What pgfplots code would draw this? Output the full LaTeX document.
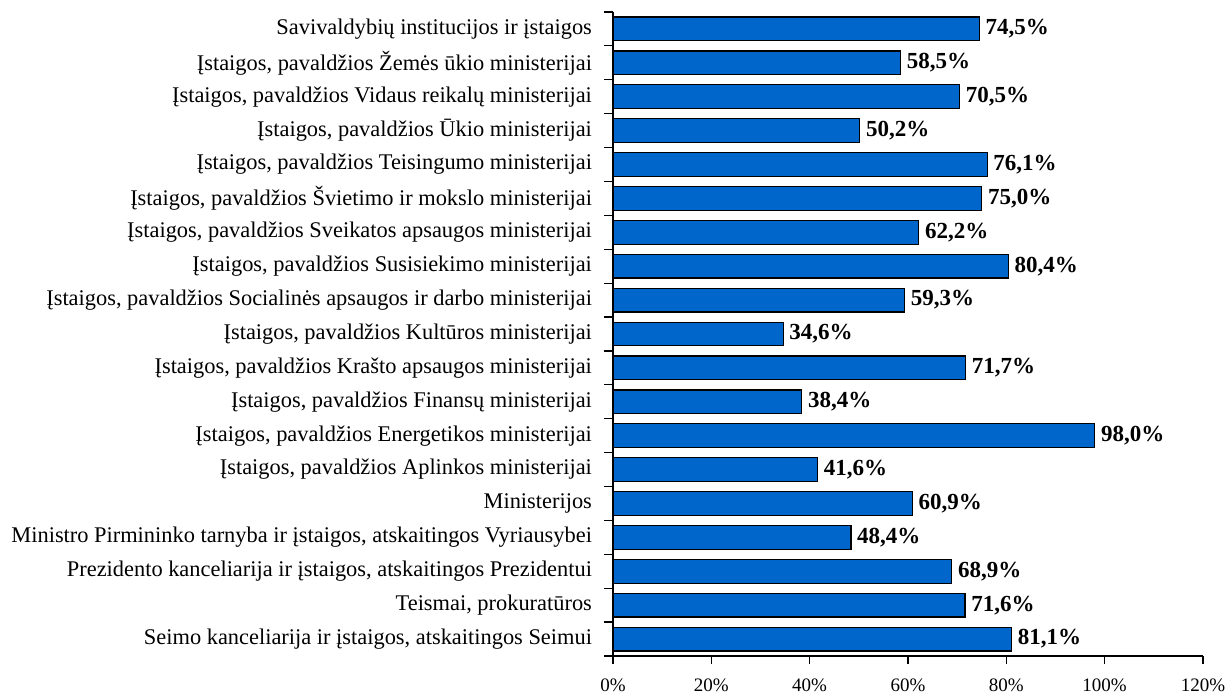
\documentclass[border=0pt]{standalone}
\usepackage{pgfplots}
\pgfplotsset{compat=1.18}
\usepackage{fontspec}
\setmainfont{Liberation Serif}
\definecolor{barblue}{HTML}{0066CC}
\begin{document}
\begin{tikzpicture}
\useasboundingbox (-306.5pt,-19pt) rectangle (307pt,328pt);
\begin{axis}[
  at={(0,0)}, anchor=south west,
  scale only axis,
  width=295pt, height=322pt,
  xbar, bar width=0.7,
  xmin=0, xmax=120, ymin=-0.5, ymax=18.5,
  axis lines*=left,
  axis line style={black, line width=0.6pt},
  tick style={black, line width=0.6pt},
  tick align=outside,
  major tick length=4pt,
  minor tick length=4.5pt,
  xtick={0,20,...,120},
  xticklabel={\pgfmathprintnumber{\tick}\%},
  xticklabel style={yshift=-4pt, font=\fontsize{9.5}{11}\selectfont},
  ytick={0,...,18},
  major y tick style={draw=none},
  minor ytick={-0.5,0.5,...,18.5},
  yticklabel style={xshift=-3pt, font=\fontsize{11.2}{13}\selectfont},
  yticklabels={
    {Seimo kanceliarija ir įstaigos, atskaitingos Seimui},
    {Teismai, prokuratūros},
    {Prezidento kanceliarija ir įstaigos, atskaitingos Prezidentui},
    {Ministro Pirmininko tarnyba ir įstaigos, atskaitingos Vyriausybei},
    {Ministerijos},
    {Įstaigos, pavaldžios Aplinkos ministerijai},
    {Įstaigos, pavaldžios Energetikos ministerijai},
    {Įstaigos, pavaldžios Finansų ministerijai},
    {Įstaigos, pavaldžios Krašto apsaugos ministerijai},
    {Įstaigos, pavaldžios Kultūros ministerijai},
    {Įstaigos, pavaldžios Socialinės apsaugos ir darbo ministerijai},
    {Įstaigos, pavaldžios Susisiekimo ministerijai},
    {Įstaigos, pavaldžios Sveikatos apsaugos ministerijai},
    {Įstaigos, pavaldžios Švietimo ir mokslo ministerijai},
    {Įstaigos, pavaldžios Teisingumo ministerijai},
    {Įstaigos, pavaldžios Ūkio ministerijai},
    {Įstaigos, pavaldžios Vidaus reikalų ministerijai},
    {Įstaigos, pavaldžios Žemės ūkio ministerijai},
    {Savivaldybių institucijos ir įstaigos}},
  /pgf/number format/assume math mode=true,
  nodes near coords={\pgfmathprintnumber[fixed,fixed zerofill,precision=1,use comma]{\pgfplotspointmeta}\%},
  nodes near coords style={font=\fontsize{11.5}{13}\selectfont\bfseries, black, anchor=west, xshift=-0.5pt},
  clip=false,
]
\addplot[fill=barblue, draw=black, line width=0.6pt] coordinates {
(81.1,0) (71.6,1) (68.9,2) (48.4,3) (60.9,4) (41.6,5) (98.0,6) (38.4,7)
(71.7,8) (34.6,9) (59.3,10) (80.4,11) (62.2,12) (75.0,13) (76.1,14)
(50.2,15) (70.5,16) (58.5,17) (74.5,18)};
\end{axis}
\end{tikzpicture}
\end{document}
